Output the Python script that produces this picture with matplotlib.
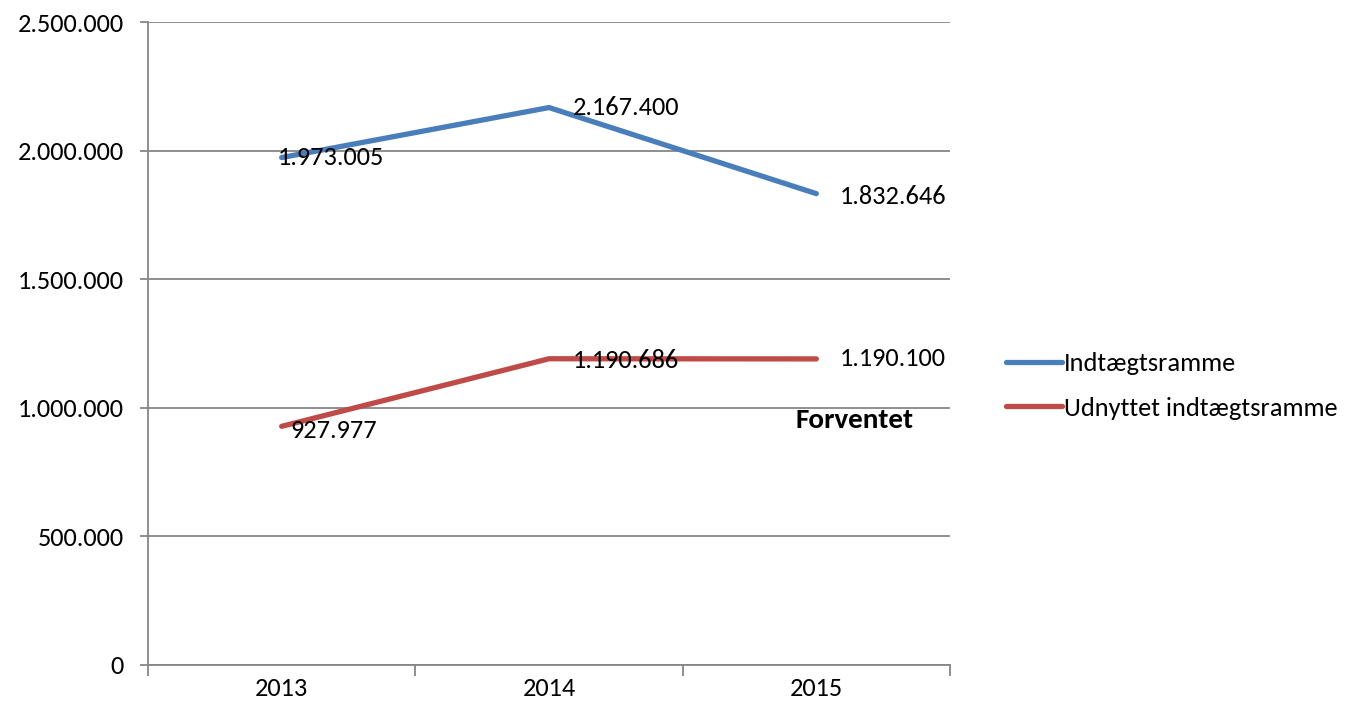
import matplotlib
matplotlib.use("Agg")
import matplotlib.pyplot as plt
from matplotlib.lines import Line2D

plt.rcParams['font.family'] = ['Carlito', 'Lato', 'DejaVu Sans']

years = ["2013", "2014", "2015"]
indtaegtsramme = [1973005, 2167400, 1832646]
udnyttet = [927977, 1190686, 1190100]
series_names = ["Indtægtsramme", "Udnyttet indtægtsramme"]
yticks = [0, 500000, 1000000, 1500000, 2000000, 2500000]
note_text = "Forventet"

BLUE = "#4A7EBB"
RED = "#BE4B48"
GRID = "#868686"
FS = 19

def fmt(v):
    return f"{v:,}".replace(",", ".")

fig = plt.figure(figsize=(13.46, 7.12), dpi=100)
ax = fig.add_axes([148/1346, 1-665/712, (950-148)/1346, (665-22)/712])

x = list(range(len(years)))
ax.plot(x, indtaegtsramme, color=BLUE, lw=3.8, solid_capstyle='round', solid_joinstyle='miter', zorder=3)
ax.plot(x, udnyttet, color=RED, lw=3.8, solid_capstyle='round', solid_joinstyle='miter', zorder=3)

ax.set_xlim(-0.5, len(years) - 0.5)
ax.set_ylim(0, 2500000)
ax.set_yticks(yticks)
ax.set_yticklabels([fmt(v) for v in yticks], fontsize=FS)
ax.yaxis.grid(True, color=GRID, lw=1.3)
ax.set_axisbelow(True)
ax.tick_params(axis='y', length=5.5, color=GRID, width=1.3, pad=12)

ax.set_xticks(x)
ax.set_xticklabels(years, fontsize=FS)
ax.tick_params(axis='x', which='major', length=0, pad=9)
ax.set_xticks([i - 0.5 for i in range(len(years) + 1)], minor=True)
ax.tick_params(axis='x', which='minor', length=8, color=GRID, width=1.3)

for s in ['top', 'right']:
    ax.spines[s].set_visible(False)
for s in ['left', 'bottom']:
    ax.spines[s].set_color(GRID)
    ax.spines[s].set_linewidth(1.3)

# data labels (offsets in points)
offs_blue = [(-3, 0), (17, 0), (17, -2)]
offs_red = [(6, -3), (17, -1), (17, 0)]
for i, v in enumerate(indtaegtsramme):
    ax.annotate(fmt(v), (i, v), xytext=offs_blue[i], textcoords='offset points',
                ha='left', va='center', fontsize=FS, zorder=4)
for i, v in enumerate(udnyttet):
    ax.annotate(fmt(v), (i, v), xytext=offs_red[i], textcoords='offset points',
                ha='left', va='center', fontsize=FS, zorder=4)

ax.annotate(note_text, (2, udnyttet[2]), xytext=(-15, -44), textcoords='offset points',
            ha='left', va='center', fontsize=21, fontweight='bold')

handles = [Line2D([], [], color=BLUE, lw=3.8, solid_capstyle='round'),
           Line2D([], [], color=RED, lw=3.8, solid_capstyle='round')]
fig.legend(handles, series_names, loc='center left', bbox_to_anchor=(993/1346, 1-386/712),
           frameon=False, fontsize=FS, handlelength=2.1, handletextpad=0.1,
           labelspacing=0.8, borderpad=0)

fig.savefig("out.png", dpi=100)
